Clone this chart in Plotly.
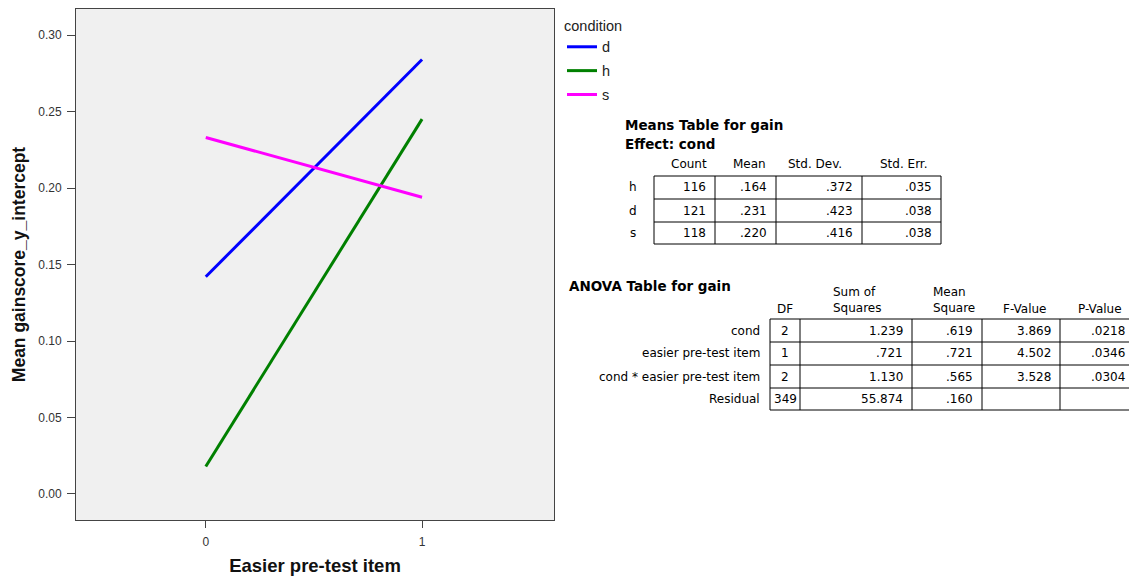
import plotly.graph_objects as go

# ---------------- data ----------------
x_levels = [0, 1]
x_ticklabels = ["0", "1"]
conditions = ["d", "h", "s"]
means_d = [0.142, 0.284]
means_h = [0.018, 0.245]
means_s = [0.233, 0.194]
colors = {"d": "#0000ff", "h": "#008000", "s": "#ff00ff"}
series = {"d": means_d, "h": means_h, "s": means_s}

y_ticks = [0.0, 0.05, 0.10, 0.15, 0.20, 0.25, 0.30]

means_rows = ["h", "d", "s"]
means_cols = ["Count", "Mean", "Std. Dev.", "Std. Err."]
means_count = ["116", "121", "118"]
means_mean = [".164", ".231", ".220"]
means_sd = [".372", ".423", ".416"]
means_se = [".035", ".038", ".038"]

anova_rows = ["cond", "easier pre-test item", "cond * easier pre-test item", "Residual"]
anova_df = ["2", "1", "2", "349"]
anova_ss = ["1.239", ".721", "1.130", "55.874"]
anova_ms = [".619", ".721", ".565", ".160"]
anova_f = ["3.869", "4.502", "3.528", ""]
anova_p = [".0218", ".0346", ".0304", ""]

# ---------------- layout helpers ----------------
W, H = 1129, 576
L, R, T, B = 76, 554, 9, 520  # plot area in page pixels
FONT = "Liberation Sans, Arial, sans-serif"
TFONT = "DejaVu Sans, Verdana, sans-serif"


def px(x):
    return (x - L) / (R - L)


def py(y):
    return (B - y) / (B - T)


fig = go.Figure()
for c in conditions:
    fig.add_trace(go.Scatter(
        x=x_levels, y=series[c], mode="lines", name=c,
        legendgroup=c,
        line=dict(color=colors[c], width=3),
    ))

annotations = []
shapes = []


def text(x, y, s, anchor="left", size=12, bold=False, color="#000"):
    annotations.append(dict(
        x=px(x), y=py(y), xref="paper", yref="paper",
        text=f"<b>{s}</b>" if bold else s, showarrow=False,
        xanchor=anchor, yanchor="middle",
        font=dict(family=TFONT, size=size, color=color),
    ))


def hline(x0, x1, y):
    shapes.append(dict(type="line", xref="paper", yref="paper",
                       x0=px(x0), x1=px(x1), y0=py(y), y1=py(y),
                       line=dict(color="#000", width=1)))


def vline(x, y0, y1):
    shapes.append(dict(type="line", xref="paper", yref="paper",
                       x0=px(x), x1=px(x), y0=py(y0), y1=py(y1),
                       line=dict(color="#000", width=1)))


# ---------------- Means table ----------------
text(623, 125, "Means Table for gain", bold=True, size=13.5)
text(623, 144, "Effect: cond", bold=True, size=13.5)
m_cols_x = [654, 715, 776, 862, 941]
m_rows_y = [176, 199, 222, 244]
head_cx = [689, 749, 815, 904]
for hx, h in zip(head_cx, means_cols):
    text(hx, 164, h, anchor="center")
for y in m_rows_y:
    hline(m_cols_x[0], m_cols_x[-1], y)
for x in m_cols_x:
    vline(x, m_rows_y[0], m_rows_y[-1])
for i, lab in enumerate(means_rows):
    yc = (m_rows_y[i] + m_rows_y[i + 1]) / 2
    text(633, yc, lab, anchor="center")
    vals = [means_count[i], means_mean[i], means_sd[i], means_se[i]]
    for j, v in enumerate(vals):
        text(m_cols_x[j + 1] - 7, yc, v, anchor="right")

# ---------------- ANOVA table ----------------
text(567, 286, "ANOVA Table for gain", bold=True, size=13.5)
a_cols_x = [770, 800, 912, 982, 1060, 1134]
a_rows_y = [319, 342, 365, 388, 410]
text(785, 309, "DF", anchor="center")
text(831, 292, "Sum of")
text(831, 308, "Squares")
text(931, 292, "Mean")
text(931, 308, "Square")
text(1001, 309, "F-Value")
text(1076, 309, "P-Value")
for y in a_rows_y:
    hline(a_cols_x[0], a_cols_x[-1], y)
for x in a_cols_x:
    vline(x, a_rows_y[0], a_rows_y[-1])
for i, lab in enumerate(anova_rows):
    yc = (a_rows_y[i] + a_rows_y[i + 1]) / 2
    text(762, yc, lab, anchor="right")
    text((a_cols_x[0] + a_cols_x[1]) / 2, yc, anova_df[i], anchor="center")
    vals = [anova_ss[i], anova_ms[i], anova_f[i], anova_p[i]]
    for j, v in enumerate(vals):
        if v:
            text(a_cols_x[j + 2] - 7, yc, v, anchor="right")

fig.update_layout(
    width=W, height=H, autosize=False,
    margin=dict(l=L, r=W - R, t=T, b=H - B, pad=0, autoexpand=False),
    paper_bgcolor="#ffffff",
    plot_bgcolor="#f0f0f0",
    font=dict(family=FONT, size=12, color="#000"),
    showlegend=True,
    legend=dict(
        title=dict(text="condition", font=dict(size=14.5, family=FONT, color="#222")),
        x=px(562), y=py(12), xanchor="left", yanchor="top",
        bgcolor="rgba(0,0,0,0)", tracegroupgap=2,
        font=dict(size=14.5, family=FONT, color="#222"),
        itemwidth=30,
    ),
    xaxis=dict(
        range=[-0.6, 1.61], tickvals=x_levels, ticktext=x_ticklabels,
        showgrid=False, zeroline=False, automargin=False,
        showline=True, mirror=True, linecolor="#444", linewidth=1,
        ticks="outside", ticklen=7, tickcolor="#444",
        tickfont=dict(size=12, color="#333", family=FONT),
        ticklabelstandoff=4,
        title=dict(text="<b>Easier pre-test item</b>",
                   font=dict(size=18.5, family=FONT, color="#111"), standoff=14),
    ),
    yaxis=dict(
        range=[-0.017, 0.317], tickvals=y_ticks, tickformat=".2f",
        showgrid=False, zeroline=False, automargin=False,
        showline=True, mirror=True, linecolor="#444", linewidth=1,
        ticks="outside", ticklen=8, tickcolor="#444",
        tickfont=dict(size=12, color="#333", family=FONT),
        ticklabelstandoff=3,
        title=dict(text="<b>Mean gainscore_y_intercept</b>",
                   font=dict(size=17.5, family=FONT, color="#111"), standoff=8),
    ),
    annotations=annotations,
    shapes=shapes,
)

fig.write_html(
    "out.html",
    config={"displayModeBar": False, "responsive": False},
    post_script=(
        "document.documentElement.style.overflow='hidden';"
        "document.body.style.margin='0';"
        "document.body.style.overflow='hidden';"
    ),
)
